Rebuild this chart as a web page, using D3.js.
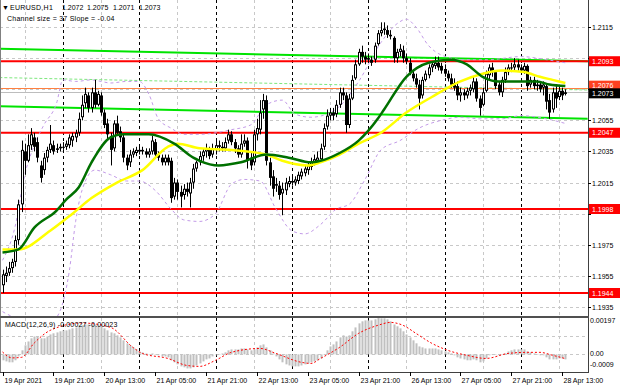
<!DOCTYPE html>
<html><head><meta charset="utf-8">
<script src="https://cdn.jsdelivr.net/npm/d3@7"></script>
<style>body{margin:0;background:#fff}svg{display:block}text{font-family:"Liberation Sans",Arial,sans-serif}</style>
</head><body><svg id="c" width="620" height="388"></svg>
<script>
// ---------- DATA ----------
const symbolTitle = "EURUSD,H1";
const lastQuote = ["1.2072","1.2075","1.2071","1.2073"];
const channelText = "Channel size = 37 Slope = -0.04";
const macdText = "MACD(12,26,9) -0.00027 -0.00023";

const opens = [1.1949,1.1955,1.1957,1.1960,1.1964,1.1978,1.2001,1.2035,1.2029,1.2039,1.2044,1.2041,1.2026,1.2023,1.2031,1.2036,1.2039,1.2036,1.2037,1.2038,1.2038,1.2039,1.2042,1.2044,1.2047,1.2057,1.2066,1.2071,1.2063,1.2073,1.2065,1.2071,1.2060,1.2053,1.2045,1.2037,1.2053,1.2048,1.2044,1.2031,1.2028,1.2033,1.2034,1.2036,1.2035,1.2035,1.2033,1.2035,1.2041,1.2033,1.2031,1.2028,1.2031,1.2029,1.2006,1.2015,1.2009,1.2007,1.2011,1.2008,1.2015,1.2024,1.2028,1.2032,1.2035,1.2036,1.2033,1.2036,1.2038,1.2038,1.2037,1.2042,1.2046,1.2041,1.2037,1.2033,1.2040,1.2042,1.2031,1.2028,1.2046,1.2049,1.2062,1.2068,1.2028,1.2019,1.2013,1.2013,1.2008,1.2010,1.2014,1.2016,1.2015,1.2016,1.2019,1.2021,1.2023,1.2025,1.2028,1.2029,1.2030,1.2038,1.2051,1.2058,1.2060,1.2059,1.2065,1.2073,1.2071,1.2052,1.2069,1.2082,1.2091,1.2099,1.2096,1.2094,1.2094,1.2094,1.2104,1.2111,1.2113,1.2113,1.2110,1.2108,1.2095,1.2099,1.2100,1.2095,1.2092,1.2085,1.2082,1.2078,1.2071,1.2081,1.2084,1.2089,1.2090,1.2092,1.2090,1.2088,1.2085,1.2082,1.2079,1.2077,1.2071,1.2073,1.2071,1.2074,1.2075,1.2080,1.2069,1.2065,1.2074,1.2084,1.2089,1.2086,1.2078,1.2073,1.2081,1.2086,1.2089,1.2089,1.2091,1.2089,1.2087,1.2090,1.2078,1.2081,1.2077,1.2078,1.2076,1.2077,1.2068,1.2062,1.2073,1.2070,1.2074,1.2072];
const highs = [1.1959,1.1961,1.1964,1.1966,1.1981,1.2004,1.2042,1.2040,1.2046,1.2050,1.2047,1.2044,1.2029,1.2034,1.2038,1.2052,1.2042,1.2040,1.2040,1.2041,1.2042,1.2046,1.2047,1.2049,1.2060,1.2071,1.2076,1.2073,1.2076,1.2081,1.2074,1.2073,1.2062,1.2056,1.2047,1.2055,1.2058,1.2051,1.2046,1.2033,1.2036,1.2037,1.2038,1.2038,1.2038,1.2037,1.2037,1.2045,1.2043,1.2035,1.2033,1.2033,1.2033,1.2031,1.2018,1.2017,1.2013,1.2014,1.2015,1.2018,1.2027,1.2029,1.2035,1.2037,1.2040,1.2038,1.2040,1.2042,1.2042,1.2041,1.2044,1.2049,1.2048,1.2043,1.2039,1.2046,1.2046,1.2044,1.2035,1.2049,1.2056,1.2068,1.2072,1.2071,1.2031,1.2023,1.2018,1.2016,1.2015,1.2018,1.2019,1.2019,1.2019,1.2022,1.2024,1.2026,1.2028,1.2031,1.2033,1.2035,1.2040,1.2053,1.2062,1.2063,1.2063,1.2068,1.2076,1.2076,1.2073,1.2072,1.2084,1.2094,1.2101,1.2103,1.2099,1.2098,1.2096,1.2105,1.2113,1.2118,1.2118,1.2116,1.2113,1.2109,1.2101,1.2104,1.2103,1.2098,1.2095,1.2087,1.2085,1.2081,1.2083,1.2087,1.2091,1.2093,1.2096,1.2096,1.2092,1.2091,1.2087,1.2085,1.2082,1.2080,1.2076,1.2075,1.2076,1.2078,1.2083,1.2082,1.2071,1.2076,1.2087,1.2091,1.2092,1.2087,1.2080,1.2083,1.2089,1.2091,1.2092,1.2095,1.2094,1.2091,1.2092,1.2091,1.2083,1.2083,1.2081,1.2080,1.2080,1.2078,1.2072,1.2076,1.2077,1.2077,1.2076,1.2075];
const lows = [1.1944,1.1951,1.1955,1.1957,1.1961,1.1975,1.1996,1.2020,1.2028,1.2036,1.2035,1.2028,1.2015,1.2020,1.2028,1.2034,1.2033,1.2034,1.2035,1.2036,1.2036,1.2037,1.2038,1.2041,1.2045,1.2055,1.2063,1.2060,1.2060,1.2063,1.2064,1.2058,1.2050,1.2042,1.2026,1.2035,1.2046,1.2041,1.2028,1.2023,1.2025,1.2031,1.2032,1.2033,1.2033,1.2031,1.2031,1.2033,1.2031,1.2029,1.2026,1.2026,1.2026,1.2002,1.2004,1.2004,1.1999,1.2004,1.2006,1.1999,1.2011,1.2022,1.2026,1.2029,1.2031,1.2030,1.2031,1.2033,1.2035,1.2035,1.2035,1.2040,1.2039,1.2034,1.2031,1.2031,1.2038,1.2024,1.2023,1.2026,1.2042,1.2046,1.2056,1.2026,1.2013,1.2006,1.2009,1.2004,1.1994,1.2007,1.2012,1.2013,1.2013,1.2014,1.2017,1.2019,1.2020,1.2023,1.2026,1.2027,1.2028,1.2036,1.2049,1.2055,1.2055,1.2057,1.2063,1.2068,1.2047,1.2050,1.2068,1.2081,1.2090,1.2092,1.2091,1.2092,1.2090,1.2092,1.2103,1.2109,1.2110,1.2108,1.2107,1.2092,1.2092,1.2096,1.2092,1.2091,1.2084,1.2080,1.2076,1.2062,1.2069,1.2080,1.2082,1.2086,1.2088,1.2087,1.2085,1.2083,1.2080,1.2076,1.2074,1.2068,1.2067,1.2068,1.2069,1.2071,1.2073,1.2067,1.2058,1.2064,1.2073,1.2081,1.2083,1.2075,1.2071,1.2070,1.2079,1.2084,1.2086,1.2087,1.2087,1.2085,1.2085,1.2074,1.2076,1.2075,1.2074,1.2073,1.2071,1.2062,1.2056,1.2060,1.2063,1.2068,1.2068,1.2071];
const closes = [1.1956,1.1957,1.1960,1.1964,1.1978,1.2001,1.2036,1.2029,1.2039,1.2046,1.2038,1.2031,1.2018,1.2031,1.2036,1.2040,1.2035,1.2037,1.2038,1.2038,1.2040,1.2044,1.2045,1.2047,1.2056,1.2065,1.2072,1.2063,1.2073,1.2065,1.2072,1.2060,1.2052,1.2046,1.2036,1.2053,1.2047,1.2044,1.2031,1.2026,1.2033,1.2035,1.2036,1.2035,1.2036,1.2033,1.2035,1.2042,1.2033,1.2031,1.2028,1.2031,1.2028,1.2005,1.2015,1.2009,1.2006,1.2011,1.2009,1.2015,1.2024,1.2028,1.2032,1.2035,1.2037,1.2032,1.2037,1.2039,1.2039,1.2037,1.2041,1.2046,1.2041,1.2037,1.2033,1.2040,1.2042,1.2029,1.2026,1.2046,1.2050,1.2060,1.2068,1.2029,1.2018,1.2011,1.2014,1.2007,1.2011,1.2015,1.2016,1.2015,1.2017,1.2020,1.2022,1.2024,1.2026,1.2028,1.2030,1.2031,1.2037,1.2050,1.2058,1.2060,1.2058,1.2065,1.2073,1.2071,1.2052,1.2069,1.2081,1.2091,1.2099,1.2096,1.2094,1.2095,1.2092,1.2103,1.2111,1.2113,1.2114,1.2110,1.2109,1.2095,1.2099,1.2101,1.2095,1.2093,1.2086,1.2082,1.2078,1.2069,1.2081,1.2085,1.2089,1.2091,1.2092,1.2089,1.2087,1.2085,1.2082,1.2078,1.2076,1.2071,1.2073,1.2071,1.2074,1.2076,1.2080,1.2069,1.2063,1.2073,1.2085,1.2089,1.2086,1.2077,1.2073,1.2081,1.2086,1.2089,1.2089,1.2091,1.2089,1.2087,1.2090,1.2077,1.2081,1.2077,1.2078,1.2075,1.2078,1.2067,1.2060,1.2073,1.2069,1.2074,1.2071,1.2073];

// moving averages read at sample bars
const maGreenIdx = [0,5,10,17,20,24,28,34,38,46,54,60,62,68,75,83,90,97,100,106,112,118,120,127,134,141,146,151,156,163,168,172,177];
const maGreenVal = [1.1970,1.1972,1.1986,1.1997,1.2004,1.2012,1.2028,1.2044,1.2046,1.2046,1.2040,1.2031,1.2029,1.2026,1.2028,1.2033,1.2031,1.2028,1.2029,1.2034,1.2042,1.2056,1.2062,1.2083,1.2092,1.2094,1.2091,1.2083,1.2080,1.2080,1.2080,1.2078,1.2077];
const maYellowIdx = [0,5,15,22,28,36,44,52,55,62,72,83,88,96,100,106,112,119,127,135,144,151,157,164,169,173,177];
const maYellowVal = [1.1972,1.1972,1.1984,1.1995,1.2005,1.2015,1.2023,1.2038,1.2040,1.2037,1.2036,1.2033,1.2029,1.2026,1.2028,1.2033,1.2040,1.2047,1.2060,1.2070,1.2080,1.2085,1.2087,1.2086,1.2083,1.2081,1.2079];

// violet dashed bands read at sample bars
const bandUpIdx = [0,4,7,10,13,17,19,23,28,31,34,39,43,46,49,53,57,62,72,78,83,88,92,97,102,106,112,119,124,127,130,134,138,145,153,163,171,177];
const bandUpVal = [1.1965,1.1987,1.2020,1.2039,1.2052,1.2066,1.2081,1.2080,1.2081,1.2080,1.2079,1.2080,1.2080,1.2072,1.2056,1.2050,1.2046,1.2046,1.2049,1.2052,1.2065,1.2068,1.2059,1.2057,1.2059,1.2064,1.2080,1.2105,1.2117,1.2120,1.2115,1.2103,1.2097,1.2094,1.2094,1.2096,1.2094,1.2092];
const bandLoIdx = [0,4,9,15,18,21,23,25,29,34,39,43,48,53,57,62,67,72,76,81,86,91,95,100,105,109,114,119,125,131,138,144,150,157,163,171,177];
const bandLoVal = [1.1932,1.1928,1.1925,1.1925,1.1932,1.1958,1.1990,1.2010,1.2023,1.2020,1.2016,1.2016,1.2010,1.1998,1.1991,1.1990,1.1995,1.2014,1.2017,1.2016,1.1998,1.1984,1.1982,1.1988,1.1998,1.2001,1.2017,1.2036,1.2042,1.2050,1.2055,1.2057,1.2056,1.2056,1.2058,1.2056,1.2053];

// regression channel (ends)
const chanIdx = [-1, 184];
const chanTop = [1.2101, 1.2093];
const chanMid = [1.20825, 1.20745];
const chanBot = [1.2064, 1.2056];

// horizontal levels
const redLevels = [1.2093, 1.2047, 1.1998, 1.1944];
const askLevel = 1.2076;
const bidLevel = 1.2073;

// axes
const priceTicks = [1.2115,1.2095,1.2075,1.2055,1.2035,1.2015,1.1995,1.1975,1.1955,1.1935];
const timeLabels = ["19 Apr 2021","19 Apr 21:00","20 Apr 13:00","21 Apr 05:00","21 Apr 21:00","22 Apr 13:00","23 Apr 05:00","23 Apr 21:00","26 Apr 13:00","27 Apr 05:00","27 Apr 21:00","28 Apr 13:00"];
const timeLabelIdx = [0,16,32,48,64,80,96,112,128,144,160,176];
const daySepIdx = [19,43,67,91,115,139,163];
const gridIdx = [7,31,55,79,103,127,151,175];
const macdTicks = [0.00197, 0.00, -0.0009];
const macdTickText = ["0.00197","0.00","-0.0009"];

// MACD histogram (per bar)
const macdHist = [-0.00032,-0.00038,-0.00043,-0.00043,-0.00032,-0.00011,0.00022,0.00049,0.00070,0.00087,0.00097,0.00097,0.00087,0.00087,0.00097,0.00108,0.00114,0.00119,0.00125,0.00130,0.00130,0.00135,0.00141,0.00146,0.00152,0.00157,0.00162,0.00162,0.00162,0.00162,0.00157,0.00152,0.00141,0.00130,0.00119,0.00114,0.00103,0.00092,0.00076,0.00060,0.00049,0.00038,0.00027,0.00016,0.00011,0.00005,0.00000,0.00005,0.00000,-0.00005,-0.00011,-0.00011,-0.00016,-0.00032,-0.00043,-0.00054,-0.00065,-0.00070,-0.00076,-0.00076,-0.00070,-0.00060,-0.00049,-0.00038,-0.00027,-0.00022,-0.00011,-0.00005,0.00000,0.00005,0.00011,0.00022,0.00027,0.00027,0.00027,0.00032,0.00032,0.00027,0.00022,0.00027,0.00038,0.00049,0.00054,0.00038,0.00022,0.00005,-0.00011,-0.00027,-0.00043,-0.00054,-0.00060,-0.00065,-0.00065,-0.00065,-0.00060,-0.00054,-0.00049,-0.00043,-0.00038,-0.00032,-0.00022,0.00000,0.00022,0.00043,0.00054,0.00070,0.00092,0.00103,0.00097,0.00103,0.00125,0.00146,0.00168,0.00179,0.00184,0.00184,0.00184,0.00190,0.00197,0.00195,0.00195,0.00190,0.00179,0.00162,0.00152,0.00141,0.00125,0.00108,0.00092,0.00076,0.00060,0.00043,0.00038,0.00032,0.00032,0.00032,0.00032,0.00027,0.00022,0.00016,0.00011,0.00005,-0.00005,-0.00016,-0.00022,-0.00027,-0.00032,-0.00032,-0.00027,-0.00032,-0.00043,-0.00038,-0.00022,-0.00005,0.00000,0.00000,-0.00005,0.00000,0.00005,0.00016,0.00022,0.00027,0.00027,0.00027,0.00027,0.00016,0.00011,0.00005,0.00000,-0.00005,-0.00005,-0.00016,-0.00027,-0.00027,-0.00027,-0.00022,-0.00022,-0.00027];
// MACD signal read at sample bars
const sigIdx = [0,3,6,10,15,25,34,41,44,52,58,62,67,72,81,86,94,97,100,106,112,118,122,126,130,135,140,146,152,159,165,169,173,177];
const sigVal = [0.00013,-0.00019,-0.00016,0.00062,0.00130,0.00170,0.00146,0.00038,0.00005,-0.00022,-0.00060,-0.00065,-0.00032,0.00011,0.00032,0.00005,-0.00043,-0.00049,-0.00022,0.00038,0.00114,0.00157,0.00173,0.00157,0.00114,0.00060,0.00022,-0.00005,-0.00022,0.00005,0.00011,0.00011,-0.00005,-0.00023];

// ---------- DRAW ----------
const svg = d3.select("#c");
const W = 620, H = 388;
const plotR = 588, mainB = 316, macdT = 318, macdB = 372;
svg.append("rect").attr("width",W).attr("height",H).attr("fill","#fff");

const x = d3.scaleLinear().domain([0,177]).range([2.5, 2.5+3.18*177]);
const y = d3.scaleLinear().domain([1.2115,1.1935]).range([27,307]);
const ym = d3.scaleLinear().domain([0.00197,-0.0009]).range([macdT,macdB-1]);

const defs = svg.append("defs");
defs.append("clipPath").attr("id","cm").append("rect").attr("x",0).attr("y",0).attr("width",plotR).attr("height",mainB);
defs.append("clipPath").attr("id","cd").append("rect").attr("x",0).attr("y",macdT).attr("width",plotR).attr("height",macdB-macdT);

const gM = svg.append("g").attr("clip-path","url(#cm)");
const gD = svg.append("g").attr("clip-path","url(#cd)");

// grid
const gridC = "#c8c8c8";
priceTicks.forEach(p=>{
  gM.append("line").attr("x1",0).attr("x2",plotR).attr("y1",Math.round(y(p))+0.5).attr("y2",Math.round(y(p))+0.5)
    .attr("stroke",gridC).attr("stroke-dasharray","3,3");
});
[0.00197*0.5, 0].forEach(v=>{
  gD.append("line").attr("x1",0).attr("x2",plotR).attr("y1",Math.round(ym(v))+0.5).attr("y2",Math.round(ym(v))+0.5)
    .attr("stroke",gridC).attr("stroke-dasharray","3,3");
});
[gM,gD].forEach((g,k)=>{
  const y0 = k===0?0:macdT, y1 = k===0?mainB:macdB;
  gridIdx.forEach(i=>g.append("line").attr("x1",Math.round(x(i))+0.5).attr("x2",Math.round(x(i))+0.5).attr("y1",y0).attr("y2",y1)
    .attr("stroke",gridC).attr("stroke-dasharray","3,3"));
  daySepIdx.forEach(i=>g.append("line").attr("x1",Math.round(x(i))+0.5).attr("x2",Math.round(x(i))+0.5).attr("y1",y0).attr("y2",y1)
    .attr("stroke","#000").attr("stroke-dasharray","3,3"));
});

// regression channel
const chanLine = (vals)=>d3.line().x((d,i)=>x(chanIdx[i])).y(d=>y(d))(vals);
gM.append("path").attr("d",chanLine(chanTop)).attr("stroke","#00e400").attr("stroke-width",2).attr("fill","none");
gM.append("path").attr("d",chanLine(chanBot)).attr("stroke","#00e400").attr("stroke-width",2).attr("fill","none");
gM.append("path").attr("d",chanLine(chanMid)).attr("stroke","#7de87d").attr("stroke-width",1).attr("stroke-dasharray","3,2").attr("fill","none");

// levels
redLevels.forEach(p=>gM.append("line").attr("x1",0).attr("x2",plotR).attr("y1",y(p)).attr("y2",y(p)).attr("stroke","#ff0000").attr("stroke-width",2));
gM.append("line").attr("x1",0).attr("x2",plotR).attr("y1",Math.round(y(askLevel))+0.5).attr("y2",Math.round(y(askLevel))+0.5).attr("stroke","#ff8040");
gM.append("line").attr("x1",0).attr("x2",plotR).attr("y1",Math.round(y(bidLevel))+0.5).attr("y2",Math.round(y(bidLevel))+0.5).attr("stroke","#bdbdbd");

// violet bands
const maLine = d3.line().curve(d3.curveMonotoneX);
[[bandUpIdx,bandUpVal],[bandLoIdx,bandLoVal]].forEach(([ix,vv])=>{
  gM.append("path").attr("d",maLine(ix.map((i,k)=>[x(i),y(vv[k])]))).attr("stroke","#c39be8").attr("stroke-width",1).attr("stroke-dasharray","3,3").attr("fill","none");
});

// candles
const bars = opens.map((o,i)=>({i,o,h:highs[i],l:lows[i],c:closes[i]}));
const gc = gM.append("g");
bars.forEach(b=>{
  const cxp = Math.round(x(b.i));
  gc.append("line").attr("x1",cxp+0.5).attr("x2",cxp+0.5).attr("y1",y(b.h)).attr("y2",y(b.l)).attr("stroke","#000");
  const top = y(Math.max(b.o,b.c)), bot = y(Math.min(b.o,b.c));
  const hgt = Math.max(1, bot-top);
  gc.append("rect").attr("x",cxp-1).attr("y",top).attr("width",3).attr("height",hgt).attr("fill","#000");
  if (b.c > b.o && hgt > 2) {
    gc.append("rect").attr("x",cxp).attr("y",top+1).attr("width",1).attr("height",hgt-2).attr("fill","#fff");
  }
});

// moving averages
gM.append("path").attr("d",maLine(maYellowIdx.map((i,k)=>[x(i),y(maYellowVal[k])]))).attr("stroke","#ffff00").attr("stroke-width",2.5).attr("fill","none");
gM.append("path").attr("d",maLine(maGreenIdx.map((i,k)=>[x(i),y(maGreenVal[k])]))).attr("stroke","#007000").attr("stroke-width",2.5).attr("fill","none");

// MACD
macdHist.forEach((v,i)=>{
  const y0 = ym(0), y1 = ym(v);
  gD.append("rect").attr("x",Math.round(x(i))-0.5).attr("width",2).attr("y",Math.min(y0,y1)).attr("height",Math.max(0.5,Math.abs(y1-y0))).attr("fill","#c0c0c0");
});
gD.append("path").attr("d",maLine(sigIdx.map((i,k)=>[x(i),ym(sigVal[k])]))).attr("stroke","#ff0000").attr("stroke-width",1).attr("stroke-dasharray","2,2").attr("fill","none");

// frames
svg.append("line").attr("x1",0.5).attr("x2",0.5).attr("y1",0).attr("y2",macdB).attr("stroke","#808080");
svg.append("line").attr("x1",plotR+0.5).attr("x2",plotR+0.5).attr("y1",0).attr("y2",macdB).attr("stroke","#404040");
svg.append("rect").attr("x",0).attr("y",mainB).attr("width",plotR+1).attr("height",2).attr("fill","#505050");
svg.append("line").attr("x1",0).attr("x2",plotR+1).attr("y1",macdB+0.5).attr("y2",macdB+0.5).attr("stroke","#404040");

// price axis (ticks hidden under the level tags are not labelled)
const tagged = [...redLevels, askLevel, bidLevel];
const ax = svg.append("g").attr("font-size","7px");
priceTicks.forEach(p=>{
  const yy = Math.round(y(p))+0.5;
  ax.append("line").attr("x1",plotR).attr("x2",plotR+3).attr("y1",yy).attr("y2",yy).attr("stroke","#000");
  const covered = tagged.some(t=>Math.abs(y(t)-y(p))<6);
  if (!covered) ax.append("text").attr("x",592).attr("y",yy+2.5).text(d3.format(".4f")(p));
});
macdTicks.forEach((v,k)=>{
  const yy = k===0?323:(k===1?356:367);
  ax.append("text").attr("x",590).attr("y",yy).text(macdTickText[k]);
});
// level labels
function tag(p, txt, fill, dy){
  const yy = y(p) + (dy||0);
  svg.append("rect").attr("x",plotR+1).attr("y",yy-5).attr("width",31).attr("height",10).attr("fill",fill);
  svg.append("text").attr("x",592).attr("y",yy+2.5).attr("font-size","7px").attr("fill","#fff").text(txt);
}
redLevels.forEach(p=>tag(p, d3.format(".4f")(p), "#ff0000"));
tag(askLevel, d3.format(".4f")(askLevel), "#ff4020", -2);
tag(bidLevel, d3.format(".4f")(bidLevel), "#000000", 1);

// time axis
timeLabels.forEach((t,k)=>{
  const xx = Math.round(x(timeLabelIdx[k]))+0.5;
  svg.append("line").attr("x1",xx).attr("x2",xx).attr("y1",macdB).attr("y2",macdB+4).attr("stroke","#000");
  svg.append("text").attr("x",xx+1).attr("y",383).attr("font-size","7px").text(t);
});

// header texts
const hdr = svg.append("text").attr("y",10).attr("font-size","7px");
hdr.append("tspan").attr("x",2).text("\u25BC");
hdr.append("tspan").attr("x",10).attr("letter-spacing","0.3").text(symbolTitle);
const quoteX = [62,87,113,139];
lastQuote.forEach((q,k)=>hdr.append("tspan").attr("x",quoteX[k]).text(q));
svg.append("text").attr("x",7).attr("y",21).attr("font-size","7px").attr("letter-spacing","0.25").text(channelText);
svg.append("text").attr("x",5).attr("y",327).attr("font-size","7px").attr("letter-spacing","0.15").text(macdText);
</script></body></html>
